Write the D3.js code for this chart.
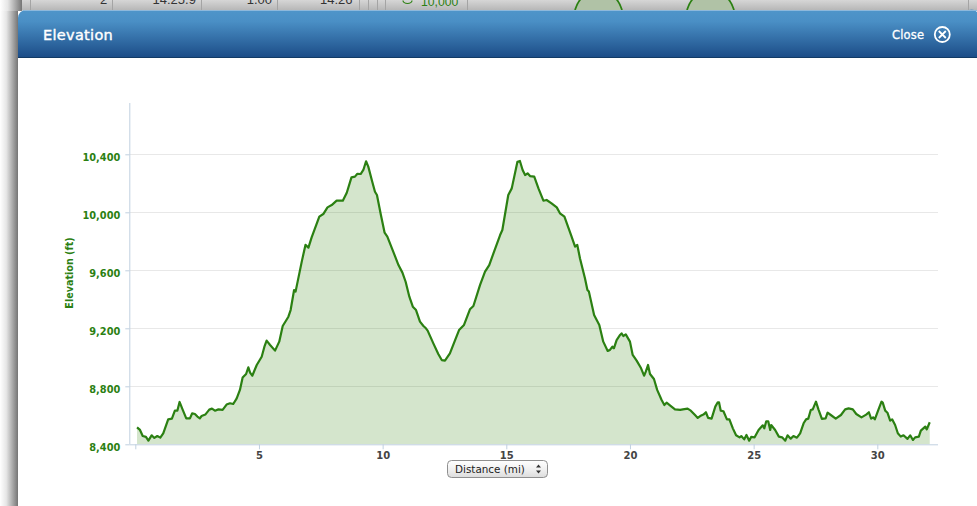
<!DOCTYPE html>
<html><head><meta charset="utf-8">
<script src="https://cdnjs.cloudflare.com/ajax/libs/d3/7.8.5/d3.min.js"></script>
<style>html,body{margin:0;padding:0;background:#fff;overflow:hidden}svg{display:block}</style>
</head><body><svg id="c" width="977" height="506"></svg>
<script>
const distance=[0.07,0.19,0.30,0.43,0.53,0.66,0.77,0.89,1.01,1.13,1.33,1.48,1.60,1.70,1.79,1.91,2.06,2.21,2.30,2.41,2.51,2.61,2.68,2.83,2.99,3.10,3.22,3.36,3.53,3.69,3.83,3.96,4.10,4.23,4.34,4.48,4.57,4.64,4.73,4.91,5.11,5.22,5.31,5.45,5.65,5.82,5.96,6.19,6.28,6.42,6.48,6.73,6.88,7.00,7.13,7.44,7.60,7.77,7.94,8.14,8.39,8.55,8.74,8.88,8.98,9.11,9.22,9.33,9.42,9.58,9.69,9.77,9.93,10.08,10.19,10.50,10.64,10.80,10.93,11.08,11.22,11.35,11.51,11.65,11.75,11.82,12.05,12.25,12.39,12.52,12.72,12.93,13.09,13.29,13.53,13.67,13.94,14.14,14.31,14.48,14.75,14.84,15.08,15.22,15.45,15.55,15.66,15.76,15.86,15.96,16.13,16.30,16.50,16.63,16.83,17.04,17.17,17.35,17.64,17.78,17.87,17.98,18.18,18.28,18.34,18.55,18.76,18.92,19.10,19.19,19.29,19.35,19.46,19.60,19.66,19.73,19.83,20.00,20.11,20.27,20.45,20.57,20.64,20.73,20.81,20.97,21.10,21.28,21.39,21.48,21.68,21.82,22.03,22.14,22.33,22.46,22.64,22.74,22.84,22.97,23.07,23.16,23.30,23.45,23.55,23.60,23.67,23.78,23.92,24.02,24.16,24.29,24.43,24.50,24.62,24.71,24.82,24.90,25.04,25.20,25.37,25.43,25.51,25.59,25.67,25.71,25.87,26.02,26.15,26.28,26.37,26.50,26.61,26.75,26.88,27.02,27.12,27.21,27.31,27.39,27.52,27.62,27.76,27.91,27.99,28.12,28.32,28.53,28.70,28.84,29.01,29.15,29.36,29.55,29.66,29.75,29.83,29.90,30.05,30.17,30.22,30.32,30.41,30.52,30.60,30.72,30.83,30.95,31.06,31.22,31.33,31.44,31.53,31.68,31.76,31.94,32.00,32.12];
const elevation=[8517,8499,8457,8451,8425,8462,8444,8457,8446,8476,8572,8577,8632,8632,8692,8641,8579,8579,8614,8609,8591,8579,8595,8605,8639,8646,8632,8641,8637,8674,8683,8678,8717,8775,8860,8885,8931,8894,8873,8947,9004,9073,9115,9085,9046,9108,9216,9280,9326,9464,9453,9660,9775,9756,9827,9970,9988,10034,10050,10080,10080,10135,10241,10246,10266,10264,10292,10352,10315,10211,10142,10119,9981,9859,9832,9698,9636,9584,9521,9418,9349,9326,9246,9216,9200,9184,9096,9023,8981,8977,9027,9119,9188,9223,9331,9354,9499,9591,9636,9717,9843,9878,10119,10165,10349,10354,10292,10257,10269,10250,10246,10165,10080,10085,10062,10034,9993,9970,9832,9763,9775,9682,9545,9464,9453,9291,9223,9108,9044,9051,9073,9062,9119,9154,9165,9147,9158,9108,9016,8977,8924,8873,8901,8947,8885,8850,8775,8706,8671,8687,8660,8641,8637,8641,8646,8632,8600,8582,8595,8605,8621,8582,8577,8660,8690,8690,8632,8628,8572,8572,8510,8462,8448,8457,8434,8464,8425,8451,8448,8499,8531,8510,8559,8559,8499,8533,8499,8453,8448,8425,8462,8439,8457,8446,8476,8545,8572,8577,8637,8641,8694,8641,8575,8579,8618,8602,8577,8602,8641,8648,8641,8609,8586,8605,8621,8577,8586,8572,8641,8694,8687,8632,8618,8563,8572,8533,8476,8453,8462,8437,8462,8430,8448,8453,8494,8522,8503,8552];
const yTicks=[8400,8800,9200,9600,10000,10400];
const xTicks=[0,5,10,15,20,25,30];
const xTickLabels=["","5","10","15","20","25","30"];
const tableCells=["2","14:25.9","1.00","14:26"];
const tableColumns=[100,152.5,246.7,320];
const behindOffsets=[-1,-0.79,-0.34,0.34,0.79,1];
const behindHeights=[0,0.556,1,1,0.556,0];
const behindCentres=[598.5,710.5];

const FONT='"DejaVu Sans",sans-serif';
const GREEN='#2b8012';
const svg=d3.select('#c');
const defs=svg.append('defs');
const hg=defs.append('linearGradient').attr('id','hdr').attr('x1',0).attr('x2',0).attr('y1',0).attr('y2',1);
[[0,'#4f95ca'],[0.25,'#4a8fc5'],[1,'#1c4d88']].forEach(s=>hg.append('stop').attr('offset',s[0]).attr('stop-color',s[1]));
const sg=defs.append('linearGradient').attr('id','shadow');
[[0,'#ffffff'],[0.35,'#e6e6e6'],[1,'#757575']].forEach(s=>sg.append('stop').attr('offset',s[0]).attr('stop-color',s[1]));
const tg=defs.append('linearGradient').attr('id','strip').attr('x1',0).attr('x2',0).attr('y1',0).attr('y2',1);
[[0,'#d6d6d6'],[1,'#b4b4b4']].forEach(s=>tg.append('stop').attr('offset',s[0]).attr('stop-color',s[1]));
const bg=defs.append('linearGradient').attr('id','btn').attr('x1',0).attr('x2',0).attr('y1',0).attr('y2',1);
[[0,'#ffffff'],[0.5,'#f1f1f1'],[1,'#dcdcdc']].forEach(s=>bg.append('stop').attr('offset',s[0]).attr('stop-color',s[1]));

// page behind the dialog
svg.append('rect').attr('x',0).attr('y',0).attr('width',18).attr('height',506).attr('fill','url(#shadow)');
svg.append('rect').attr('x',22).attr('y',0).attr('width',955).attr('height',11).attr('fill','url(#strip)');
svg.append('rect').attr('x',0).attr('y',0).attr('width',22).attr('height',11).attr('fill','url(#shadow)');
[30,112,201,277,359,368,377,385,467,968].forEach(v=>svg.append('line').attr('x1',v+.5).attr('x2',v+.5).attr('y1',0).attr('y2',10).attr('stroke','#a4a4a4'));
tableCells.forEach((t,i)=>svg.append('text').attr('x',tableColumns[i]).attr('y',4).attr('font-family','"Liberation Sans",sans-serif').attr('font-size',13).attr('fill','#333').text(t));
svg.append('text').attr('x',421).attr('y',5.7).attr('font-family','"Liberation Sans",sans-serif').attr('font-size',12.2).attr('fill',GREEN).text('10,000');
svg.append('path').attr('d','M403 0.5a4.5 3 0 0 0 9 0').attr('fill','none').attr('stroke',GREEN).attr('stroke-width',1.2);
const bx=d3.scaleLinear().domain([-1,1]).range([-23.5,23.5]);
const by=d3.scaleLinear().domain([0,1]).range([10,-8]);
behindCentres.forEach(c=>{
  const pts=behindOffsets.map((d,j)=>[c+bx(d),by(behindHeights[j])]);
  svg.append('path').attr('d',d3.area().x(d=>d[0]).y0(11).y1(d=>d[1]).curve(d3.curveCardinal)(pts)).attr('fill','#b0c2a6');
  svg.append('path').attr('d',d3.line().x(d=>d[0]).y(d=>d[1]).curve(d3.curveCardinal)(pts)).attr('fill','none').attr('stroke',GREEN).attr('stroke-width',1.8);
});

// dialog
svg.append('rect').attr('x',18).attr('y',10).attr('width',975).attr('height',494).attr('rx',7).attr('fill','#fff');
svg.append('path').attr('d','M18 57V18a8 8 0 0 1 8-8H969a8 8 0 0 1 8 2V57Z').attr('fill','url(#hdr)');
svg.append('line').attr('x1',24).attr('x2',977).attr('y1',10.5).attr('y2',10.5).attr('stroke','#8db8dc');
svg.append('line').attr('x1',18).attr('x2',977).attr('y1',57.5).attr('y2',57.5).attr('stroke','#123b66');
svg.append('text').attr('x',43).attr('y',40).attr('font-family',FONT).attr('font-size',14.5).attr('stroke','#fff').attr('stroke-width',0.4).attr('letter-spacing',0.3).attr('fill','#fff').text('Elevation');
svg.append('text').attr('x',892).attr('y',39).attr('font-family',FONT).attr('font-size',11.5).attr('stroke','#fff').attr('stroke-width',0.3).attr('letter-spacing',0.2).attr('fill','#fff').text('Close');
svg.append('circle').attr('cx',942.3).attr('cy',34.5).attr('r',7.5).attr('fill','none').attr('stroke','#fff').attr('stroke-width',1.8);
svg.append('path').attr('d','M938.8 31L945.8 38M945.8 31L938.8 38').attr('stroke','#fff').attr('stroke-width',1.8);

// chart
const x=d3.scaleLinear().domain([0,30]).range([135.3,877.3]);
const y=d3.scaleLinear().domain([8400,10400]).range([444.3,154.3]);
const plotLeft=129.3,plotRight=938,plotTop=103;
const points=distance.map((d,i)=>[d,elevation[i]]);
yTicks.slice(1).forEach(t=>svg.append('line').attr('x1',plotLeft).attr('x2',plotRight).attr('y1',Math.round(y(t))+.5).attr('y2',Math.round(y(t))+.5).attr('stroke','#e8e8e8'));
svg.append('path').attr('d',d3.area().x(d=>x(d[0])).y0(y(8400)).y1(d=>y(d[1]))(points)).attr('fill','#267d00').attr('fill-opacity',0.2);
svg.append('path').attr('d',d3.line().x(d=>x(d[0])).y(d=>y(d[1]))(points)).attr('fill','none').attr('stroke',GREEN).attr('stroke-width',2.2).attr('stroke-linejoin','round');

const yAxis=svg.append('g').attr('transform',`translate(${plotLeft},0)`).call(d3.axisLeft(y).tickValues(yTicks).tickSize(4).tickPadding(5).tickFormat(d3.format(',')));
yAxis.select('.domain').attr('d',`M0.5,${plotTop}V${y(8400)}`).attr('stroke','#c0d0e0');
yAxis.selectAll('.tick line').attr('stroke','#c0d0e0');
yAxis.selectAll('text').attr('font-family',FONT).attr('font-weight','bold').attr('font-size',9.8).attr('fill',GREEN).attr('dy','0.6em').attr('y',0.3);
const xAxis=svg.append('g').attr('transform',`translate(0,${y(8400)})`).call(d3.axisBottom(x).tickValues(xTicks).tickSize(5).tickPadding(2.5).tickFormat((d,i)=>xTickLabels[i]));
xAxis.select('.domain').attr('d',`M${plotLeft},0.5H${plotRight}`).attr('stroke','#c0d0e0');
xAxis.selectAll('.tick line').attr('stroke','#c0d0e0');
xAxis.selectAll('text').attr('font-family',FONT).attr('font-weight','bold').attr('font-size',10).attr('fill','#444');
svg.append('text').attr('transform','translate(72.5,273) rotate(-90)').attr('text-anchor','middle').attr('font-family',FONT).attr('font-weight','bold').attr('font-size',9.6).attr('fill',GREEN).text('Elevation (ft)');

// distance selector
svg.append('rect').attr('x',447.5).attr('y',460.5).attr('width',100).attr('height',17).attr('rx',4).attr('fill','url(#btn)').attr('stroke','#8f8f8f');
svg.append('text').attr('x',455).attr('y',473).attr('font-family',FONT).attr('font-size',10.4).attr('fill','#222').text('Distance (mi)');
svg.append('path').attr('d','M536 467.5h5l-2.5-3ZM536 470.5h5l-2.5 3Z').attr('fill','#333');
</script></body></html>
